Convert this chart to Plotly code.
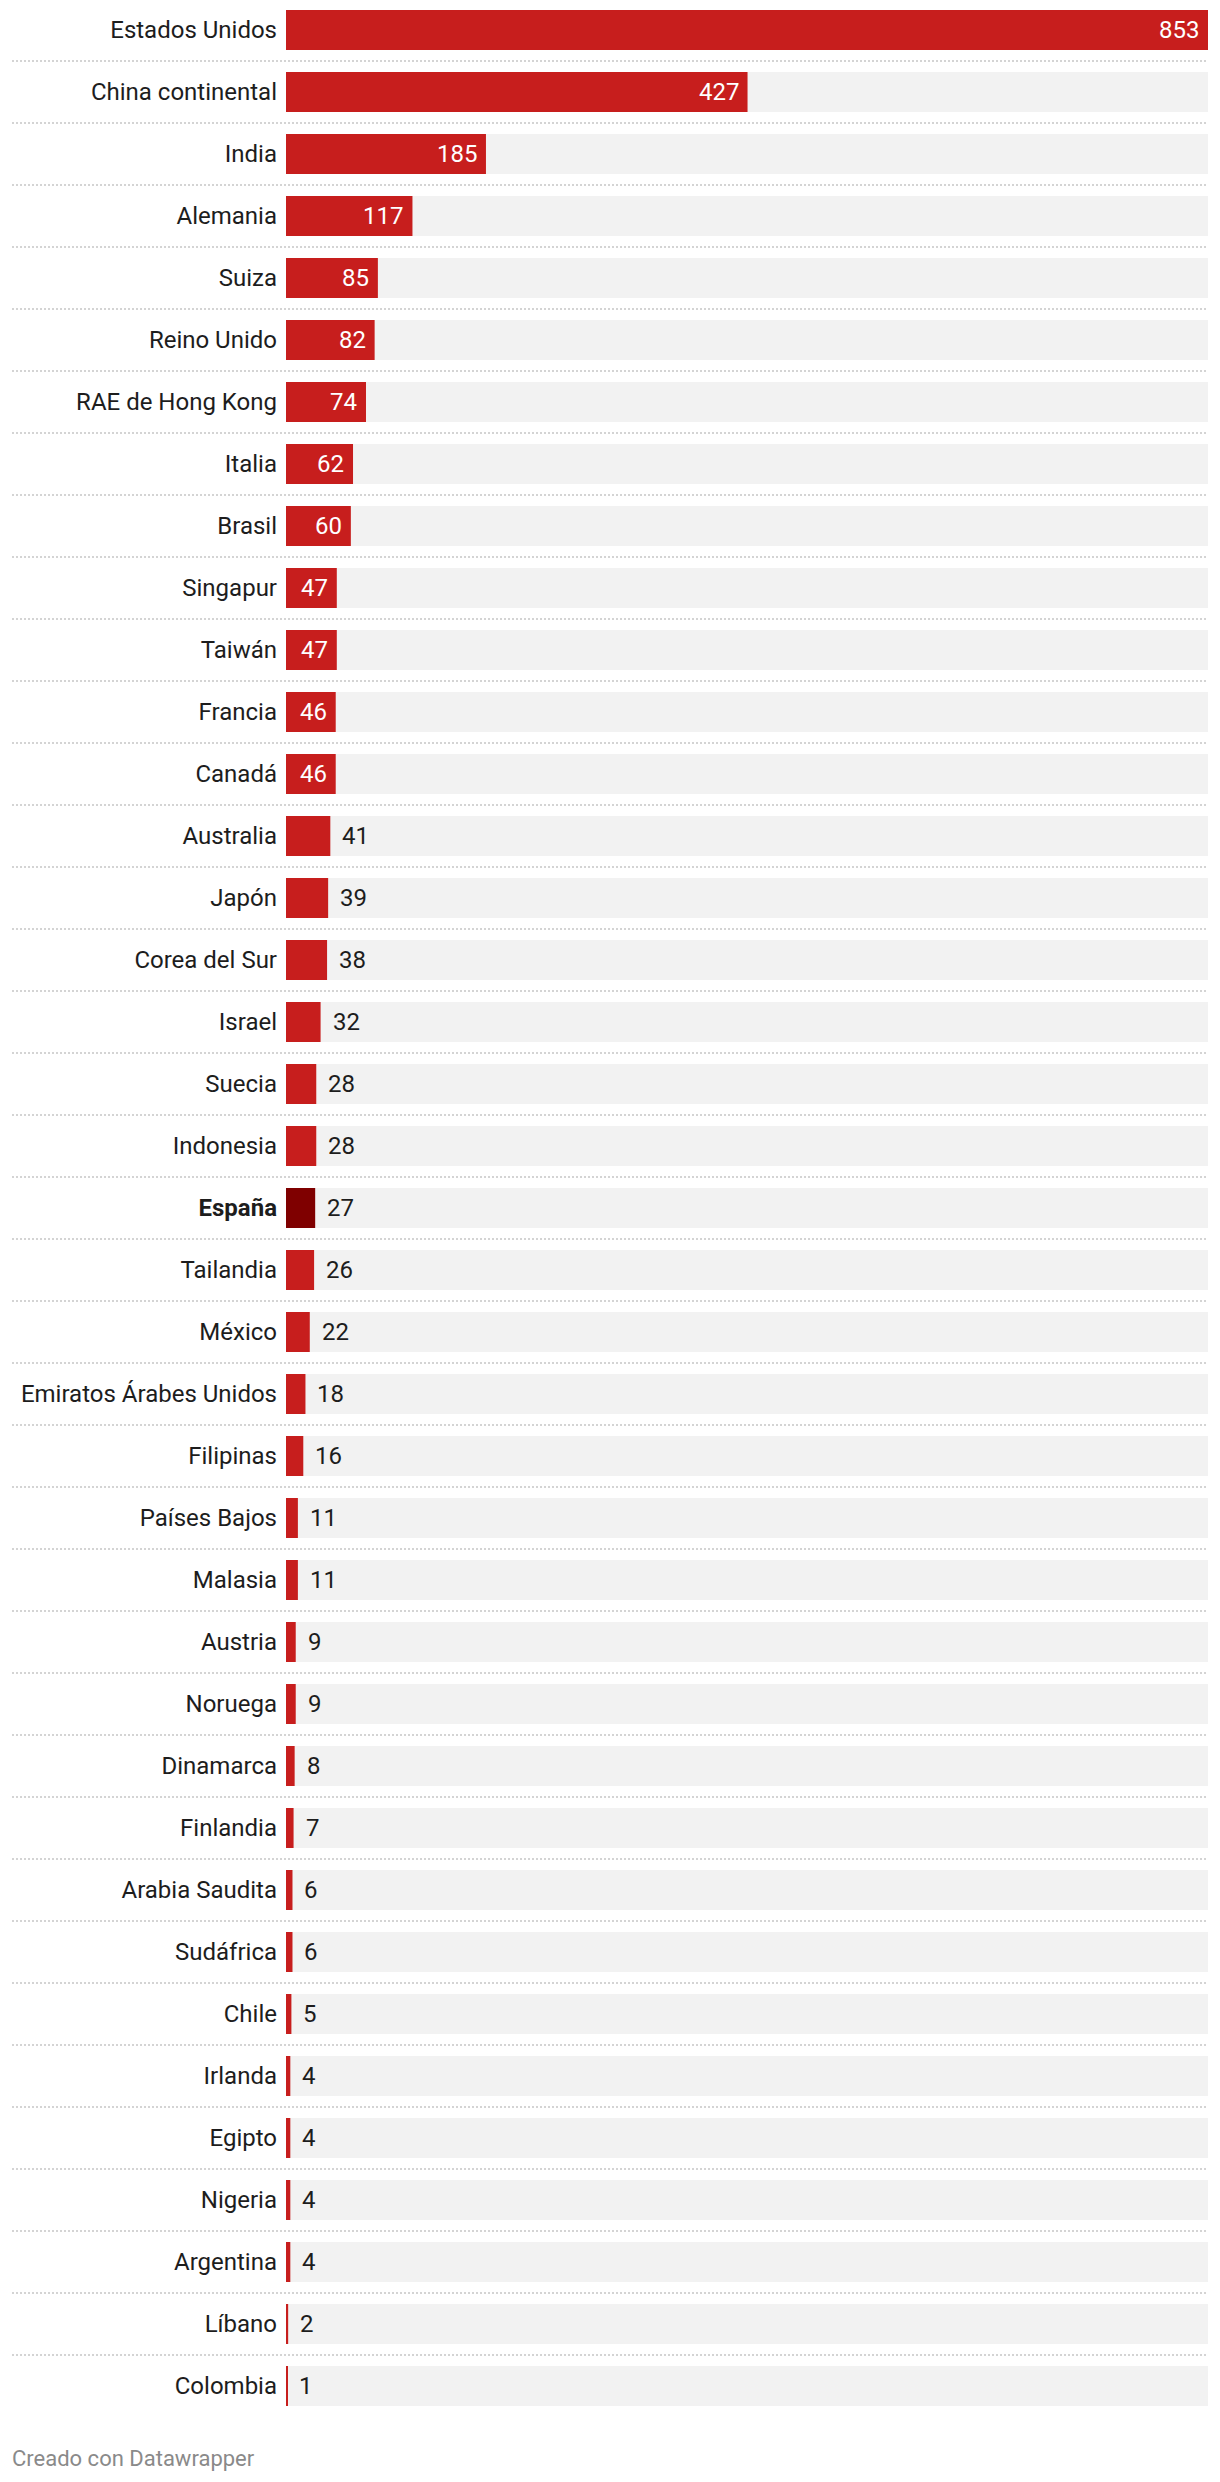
import plotly.graph_objects as go

countries = ["Estados Unidos", "China continental", "India", "Alemania", "Suiza", "Reino Unido",
             "RAE de Hong Kong", "Italia", "Brasil", "Singapur", "Taiwán", "Francia", "Canadá",
             "Australia", "Japón", "Corea del Sur", "Israel", "Suecia", "Indonesia", "España",
             "Tailandia", "México", "Emiratos Árabes Unidos", "Filipinas", "Países Bajos", "Malasia",
             "Austria", "Noruega", "Dinamarca", "Finlandia", "Arabia Saudita", "Sudáfrica", "Chile",
             "Irlanda", "Egipto", "Nigeria", "Argentina", "Líbano", "Colombia"]
values = [853, 427, 185, 117, 85, 82, 74, 62, 60, 47, 47, 46, 46, 41, 39, 38, 32, 28, 28, 27,
          26, 22, 18, 16, 11, 11, 9, 9, 8, 7, 6, 6, 5, 4, 4, 4, 4, 2, 1]
highlight = "España"
footer = "Creado con Datawrapper"

RED = "#c71e1d"
DARK = "#7f0000"
TEXT = "#1d1d1d"
FONT = "Roboto, sans-serif"
FS = 24

W, H = 1220, 2482
ML, MR, MT, MB = 286, 12, 0, 52
PITCH = 62
BARW = 40 / PITCH
n = len(countries)
top_val = -30 / PITCH
bottom_val = top_val + (H - MT - MB) / PITCH
xmax = max(values)
plot_w = W - ML - MR

colors = [DARK if c == highlight else RED for c in countries]
ticktext = [f"<b>{c}</b>" if c == highlight else c for c in countries]

fig = go.Figure()
fig.add_trace(go.Bar(x=[xmax] * n, y=countries, orientation="h", width=BARW,
                     marker=dict(color="#f2f2f2", line=dict(width=0)), hoverinfo="skip",
                     showlegend=False))
fig.add_trace(go.Bar(x=values, y=countries, orientation="h", width=BARW,
                     marker=dict(color=colors, line=dict(width=0)), showlegend=False))

annotations = []
for c, v in zip(countries, values):
    inside = v >= 46
    annotations.append(dict(
        x=v, y=c, xref="x", yref="y", text=str(v), showarrow=False,
        xanchor="right" if inside else "left", xshift=-7 if inside else 10,
        yanchor="middle",
        font=dict(family=FONT, size=FS, color="#ffffff" if inside else TEXT)))

annotations.append(dict(x=(10 - ML) / plot_w, xref="paper", y=0, yref="paper",
                        yshift=-28, xanchor="left", yanchor="middle", showarrow=False,
                        text=footer, font=dict(family=FONT, size=22, color="#8a8a8a")))

shapes = []
for i in range(n - 1):
    shapes.append(dict(type="line", xref="paper", yref="y",
                       x0=(12 - ML) / plot_w, x1=1, y0=i + 0.5, y1=i + 0.5,
                       line=dict(color="#d4d4d4", width=2, dash="2px,2px"), layer="below"))

fig.update_layout(
    width=W, height=H, barmode="overlay",
    margin=dict(l=ML, r=MR, t=MT, b=MB, pad=0),
    paper_bgcolor="white", plot_bgcolor="white",
    font=dict(family=FONT, size=FS, color=TEXT),
    annotations=annotations, shapes=shapes,
    xaxis=dict(range=[0, xmax], visible=False, fixedrange=True),
    yaxis=dict(type="category", categoryorder="array", categoryarray=countries,
               range=[bottom_val, top_val], tickmode="array", tickvals=countries,
               ticktext=ticktext, showgrid=False, zeroline=False, showline=False,
               ticks="", ticklabelstandoff=8,
               tickfont=dict(family=FONT, size=FS, color=TEXT), fixedrange=True),
)

fig.write_html("out.html", config={"displayModeBar": False},
               post_script="document.body.style.margin='0';document.body.style.overflow='hidden';")
